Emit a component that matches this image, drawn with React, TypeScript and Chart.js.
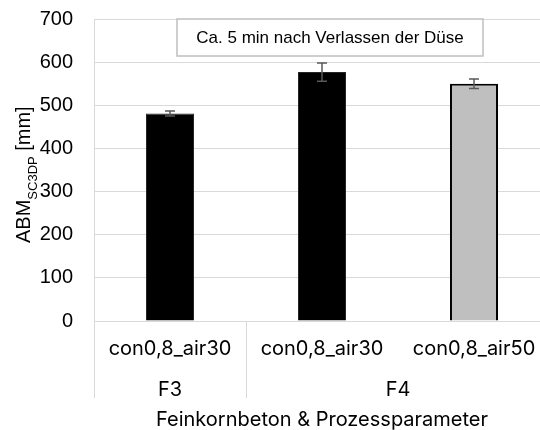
import React, { useEffect, useRef } from "react";
import { Chart, registerables } from "chart.js";

Chart.register(...registerables);

const categories = ["con0,8_air30", "con0,8_air30", "con0,8_air50"];
const groups = [
  { label: "F3", from: 0, to: 0 },
  { label: "F4", from: 1, to: 2 },
];
const values = [481, 577, 550];
const errors = [6, 21, 11];
const barColors = ["#000000", "#000000", "#bfbfbf"];
const barBorders = ["#262626", "#262626", "#000000"];
const yTicks = [0, 100, 200, 300, 400, 500, 600, 700];
const annotationText = "Ca. 5 min nach Verlassen der Düse";
const xTitle = "Feinkornbeton & Prozessparameter";

const GRID = "#d9d9d9";

const overlayPlugin = {
  id: "overlay",
  afterDatasetsDraw(chart: any) {
    const ctx = chart.ctx;
    const y = chart.scales.y;
    const meta = chart.getDatasetMeta(0);
    ctx.save();
    ctx.strokeStyle = "#595959";
    ctx.lineWidth = 1.5;
    meta.data.forEach((bar: any, i: number) => {
      const cx = bar.x;
      const top = y.getPixelForValue(values[i] + errors[i]);
      const bot = y.getPixelForValue(values[i] - errors[i]);
      ctx.beginPath();
      ctx.moveTo(cx, top);
      ctx.lineTo(cx, bot);
      ctx.moveTo(cx - 5, top);
      ctx.lineTo(cx + 5, top);
      ctx.moveTo(cx - 5, bot);
      ctx.lineTo(cx + 5, bot);
      ctx.stroke();
    });
    ctx.restore();
  },
  afterDraw(chart: any) {
    const ctx = chart.ctx;
    const area = chart.chartArea;
    const n = categories.length;
    const step = (area.right - area.left) / n;
    const lineBottom = 398;
    ctx.save();
    ctx.strokeStyle = GRID;
    ctx.lineWidth = 1;
    const edges: number[] = [];
    for (let i = 0; i <= n; i++) edges.push(area.left + i * step);
    const seps = new Set<number>();
    seps.add(0);
    groups.forEach((g) => seps.add(g.to + 1));
    seps.forEach((s) => {
      if (s >= n) return;
      const px = Math.round(edges[s]) + 0.5;
      ctx.beginPath();
      ctx.moveTo(px, area.bottom);
      ctx.lineTo(px, lineBottom);
      ctx.stroke();
    });
    ctx.fillStyle = "#000";
    ctx.font = "20px Inter";
    ctx.textAlign = "center";
    ctx.textBaseline = "middle";
    groups.forEach((g) => {
      const cx = (edges[g.from] + edges[g.to + 1]) / 2;
      ctx.fillText(g.label, cx, 390);
    });
    const bx = area.left + 83;
    const bw = 306;
    const by = area.top;
    const bh = 37;
    ctx.fillStyle = "#fff";
    ctx.fillRect(bx, by, bw, bh);
    ctx.strokeStyle = "#bfbfbf";
    ctx.lineWidth = 1.5;
    ctx.strokeRect(bx, by, bw, bh);
    ctx.fillStyle = "#000";
    ctx.font = "17px 'Liberation Sans', Arial";
    ctx.textAlign = "center";
    ctx.textBaseline = "middle";
    ctx.fillText(annotationText, bx + bw / 2, by + bh / 2 + 1);
    ctx.translate(30, 243);
    ctx.rotate(-Math.PI / 2);
    ctx.textAlign = "left";
    ctx.textBaseline = "alphabetic";
    ctx.font = "20px 'Liberation Sans', Arial";
    ctx.fillText("ABM", 0, 0);
    let w = ctx.measureText("ABM").width;
    ctx.font = "13px 'Liberation Sans', Arial";
    ctx.fillText("SC3DP", w, 7);
    w += ctx.measureText("SC3DP").width;
    ctx.font = "20px 'Liberation Sans', Arial";
    ctx.fillText(" [mm]", w, 0);
    ctx.restore();
  },
};

export default function App() {
  const ref = useRef<HTMLCanvasElement | null>(null);
  useEffect(() => {
    if (!ref.current) return;
    const chart = new Chart(ref.current, {
      type: "bar",
      data: {
        labels: categories,
        datasets: [
          {
            data: values,
            backgroundColor: barColors,
            borderColor: barBorders,
            borderWidth: [1, 1, 2],
            barPercentage: 0.316,
            categoryPercentage: 1,
          },
        ],
      },
      options: {
        responsive: false,
        animation: false,
        devicePixelRatio: 1,
        layout: { padding: { top: 19, right: 6, left: 0, bottom: 0 } },
        plugins: { legend: { display: false }, tooltip: { enabled: false } },
        scales: {
          x: {
            grid: { display: false },
            border: { display: false },
            ticks: {
              color: "#000",
              font: { family: "Inter", size: 20 },
              padding: 8,
              maxRotation: 0,
              autoSkip: false,
            },
            title: {
              display: true,
              text: xTitle,
              color: "#000",
              font: { family: "Inter", size: 20, lineHeight: 1 },
              padding: { top: 0, bottom: 0 },
            },
            afterFit: (s: any) => {
              s.height = 109;
              s.paddingLeft = 0;
              s.paddingRight = 0;
            },
          },
          y: {
            min: 0,
            max: 700,
            afterBuildTicks: (s: any) => {
              s.ticks = yTicks.map((v) => ({ value: v }));
            },
            grid: { color: GRID, drawTicks: false, lineWidth: 1 },
            border: { display: true, color: GRID },
            ticks: {
              color: "#000",
              font: { family: "'Liberation Sans', Arial", size: 20 },
              padding: 21,
            },
            afterFit: (s: any) => {
              s.width = 94;
              s.paddingTop = 0;
              s.paddingBottom = 0;
            },
          },
        },
      },
      plugins: [overlayPlugin],
    });
    return () => chart.destroy();
  }, []);
  return (
    <div
      style={{
        position: "absolute",
        left: 0,
        top: 0,
        width: 540,
        height: 430,
        overflow: "hidden",
        background: "#fff",
      }}
    >
      <canvas ref={ref} width={556} height={430} style={{ display: "block" }} />
    </div>
  );
}
